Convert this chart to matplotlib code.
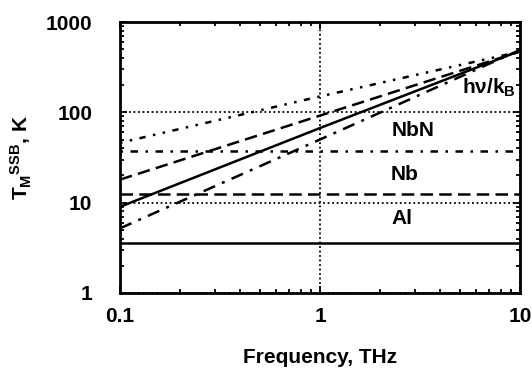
import matplotlib
matplotlib.use("Agg")
import matplotlib.pyplot as plt
from matplotlib.ticker import FixedLocator, FuncFormatter, LogLocator

plt.rcParams['font.family'] = ['Liberation Sans', 'DejaVu Sans']
plt.rcParams['font.weight'] = 'bold'
plt.rcParams['mathtext.fontset'] = 'custom'
plt.rcParams['mathtext.rm'] = 'Liberation Sans:bold'
plt.rcParams['mathtext.it'] = 'Liberation Sans:bold'
plt.rcParams['mathtext.bf'] = 'Liberation Sans:bold'

# Data
freq = [0.1, 1, 10]                 # THz
solid_slope = [9.0, 67, 480]
dashdot_slope = [5.2, 50, 490]
dashed_slope = [18, 92, 470]
dotted_slope = [46, 150, 470]
freq_span = [0.1, 10]
nbn_level = [37, 37]
nb_level = [12.5, 12.5]
al_level = [3.6, 3.6]
xticks = [0.1, 1, 10]
yticks = [1, 10, 100, 1000]
labels = ["NbN", "Nb", "Al", "h\u03bd/k$_{\\mathrm{B}}$"]
label_pos = [(2.92, 63), (2.66, 20.5), (2.57, 6.6), (7.0, 185)]

fig = plt.figure(figsize=(5.32, 3.69), dpi=100)
ax = fig.add_axes([120/532, 76/369, 400/532, 271/369])
ax.set_xscale('log')
ax.set_yscale('log')
ax.set_xlim(0.1, 10)
ax.set_ylim(1, 1000)

lw = 1.8
ax.plot(freq, solid_slope, color='black', lw=lw, solid_capstyle='butt')
ax.plot(freq, dashdot_slope, color='black', lw=lw, dashes=(5, 3, 1.2, 3))
ax.plot(freq, dashed_slope, color='black', lw=lw, dashes=(5, 2.5))
ax.plot(freq, dotted_slope, color='black', lw=lw, dashes=(1, 3, 1, 3, 2.5, 3))

ax.plot(freq_span, nbn_level, color='black', lw=lw, dashes=(1, 3, 3, 3))
ax.plot(freq_span, nb_level, color='black', lw=lw, dashes=(5, 2.5))
ax.plot(freq_span, al_level, color='black', lw=lw)

ax.grid(True, which='major', color='black', linestyle=(0, (1, 1.5)), lw=1.3)

for txt, (x, y) in zip(labels, label_pos):
    ax.text(x, y, txt, ha='center', va='center', fontsize=15, fontweight='bold')

ax.xaxis.set_major_locator(FixedLocator(xticks))
ax.yaxis.set_major_locator(FixedLocator(yticks))
ax.xaxis.set_minor_locator(LogLocator(base=10, subs=range(2, 10)))
ax.yaxis.set_minor_locator(LogLocator(base=10, subs=range(2, 10)))
fmt = FuncFormatter(lambda v, p: '{:g}'.format(v))
ax.xaxis.set_major_formatter(fmt)
ax.yaxis.set_major_formatter(fmt)
ax.xaxis.set_minor_formatter(FuncFormatter(lambda v, p: ''))
ax.yaxis.set_minor_formatter(FuncFormatter(lambda v, p: ''))

ax.tick_params(which='both', direction='in', top=True, right=True, width=1.3)
ax.tick_params(which='major', length=5, labelsize=15)
ax.tick_params(which='minor', length=3)
ax.tick_params(axis='y', which='major', pad=20)
ax.tick_params(axis='x', which='major', pad=10)
for s in ax.spines.values():
    s.set_linewidth(2)

ax.set_xlabel('Frequency, THz', fontsize=15, fontweight='bold', labelpad=16)
ax.set_ylabel('T$_{\\mathrm{M}}$$^{\\mathrm{SSB}}$, K', fontsize=15, fontweight='bold', labelpad=8)

fig.savefig('out.png', dpi=100)
